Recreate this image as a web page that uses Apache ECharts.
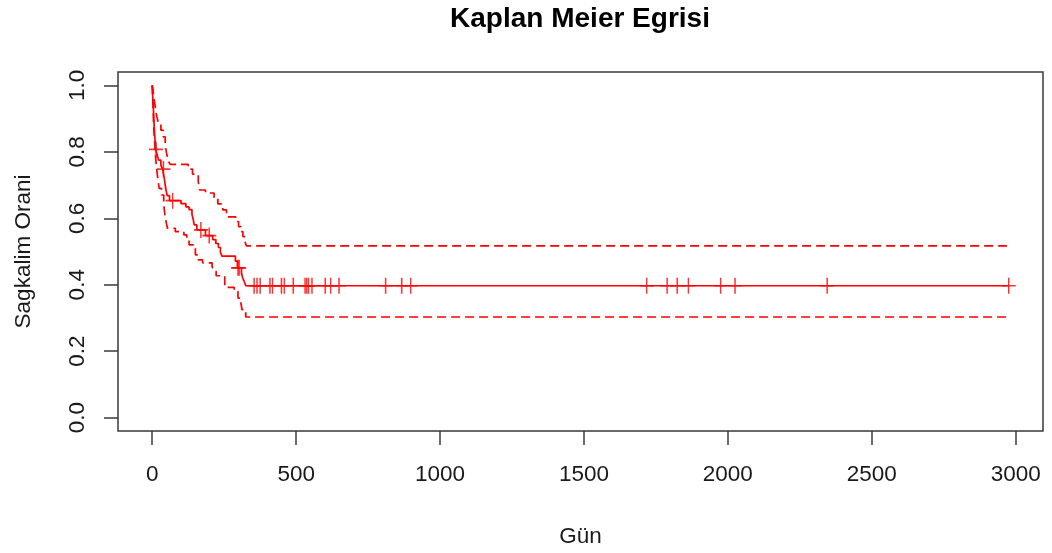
<!DOCTYPE html>
<html>
<head>
<meta charset="utf-8">
<script src="https://cdn.jsdelivr.net/npm/echarts@6/dist/echarts.min.js"></script>
<style>
  html, body { margin: 0; padding: 0; background: #ffffff; }
  #chart { width: 1052px; height: 553px; }
</style>
</head>
<body>
<div id="chart"></div>
<script>
// Kaplan-Meier estimate: step times (days) and survival probability
const survTime = [0, 2, 4, 6, 8, 10, 13, 17, 22, 30, 36, 42, 45, 48, 52, 60, 100, 117, 128, 138, 142, 146, 155, 185, 210, 221, 230, 237, 242, 289, 296, 310, 314, 320, 325, 2976];
const survProb = [1.0, 0.96, 0.93, 0.89, 0.86, 0.83, 0.807, 0.79, 0.775, 0.76, 0.748, 0.72, 0.70, 0.685, 0.668, 0.653, 0.644, 0.634, 0.626, 0.612, 0.598, 0.580, 0.565, 0.548, 0.536, 0.524, 0.512, 0.498, 0.486, 0.471, 0.451, 0.436, 0.421, 0.409, 0.397, 0.397];

// 95% confidence band, upper limit
const upperTime = [0, 4, 8, 12, 16, 22, 30, 38, 45, 50, 56, 62, 125, 140, 160, 165, 185, 215, 228, 245, 258, 290, 300, 308, 315, 322, 327, 2970];
const upperProb = [1.0, 0.975, 0.95, 0.925, 0.905, 0.885, 0.865, 0.845, 0.82, 0.795, 0.772, 0.762, 0.748, 0.733, 0.71, 0.685, 0.676, 0.658, 0.643, 0.625, 0.604, 0.59, 0.575, 0.56, 0.545, 0.53, 0.517, 0.517];

// 95% confidence band, lower limit
const lowerTime = [0, 2, 4, 6, 9, 12, 15, 18, 24, 32, 40, 44, 48, 53, 80, 110, 120, 128, 150, 160, 175, 208, 214, 222, 252, 285, 298, 308, 312, 325, 2967];
const lowerProb = [1.0, 0.95, 0.90, 0.86, 0.82, 0.78, 0.75, 0.73, 0.69, 0.67, 0.64, 0.61, 0.59, 0.57, 0.56, 0.55, 0.535, 0.52, 0.49, 0.475, 0.466, 0.455, 0.44, 0.427, 0.392, 0.38, 0.36, 0.345, 0.325, 0.303, 0.303];

// Censored observations (days)
const censorTime = [13, 39, 71, 169, 198, 298, 302, 354, 364, 375, 409, 418, 449, 459, 490, 531, 537, 543, 555, 601, 620, 649, 811, 867, 898, 1718, 1789, 1824, 1863, 1975, 2025, 2345, 2976];

// Axis tick positions
const xTicks = [0, 500, 1000, 1500, 2000, 2500, 3000];
const yTicks = [0, 0.2, 0.4, 0.6, 0.8, 1.0];

const RED = '#ff0000';
const INK = '#1a1a1a';
const FONT = "'Liberation Sans', Arial, sans-serif";

const pairs = (ts, vs) => ts.map((t, i) => [t, vs[i]]);

// survival value of the step curve at time t
function survAt(t) {
  let s = survProb[0];
  for (let i = 0; i < survTime.length; i++) {
    if (survTime[i] <= t) s = survProb[i]; else break;
  }
  return s;
}

const chart = echarts.init(document.getElementById('chart'), null, { renderer: 'canvas' });

const axisTextStyle = { color: INK, fontFamily: FONT, fontSize: 22.5 };

chart.setOption({
  animation: false,
  backgroundColor: '#ffffff',
  title: {
    text: 'Kaplan Meier Egrisi',
    left: 580,
    top: 0,
    padding: [5, 0, 0, 0],
    textAlign: 'center',
    textStyle: { color: '#000', fontFamily: FONT, fontSize: 28, fontWeight: 'bold' }
  },
  grid: {
    left: 118, right: 9, top: 72, bottom: 116,
    show: true, borderColor: '#3a3a3a', borderWidth: 1.5, backgroundColor: 'transparent'
  },
  xAxis: {
    type: 'value',
    min: -119, max: 3095,
    name: 'Gün',
    nameLocation: 'middle',
    nameGap: 94,
    nameTextStyle: axisTextStyle,
    axisLine: { show: false, onZero: false },
    axisTick: { show: true, inside: false, length: 14, customValues: xTicks, lineStyle: { color: '#3a3a3a', width: 1.5 } },
    axisLabel: { show: true, margin: 32, customValues: xTicks, formatter: v => String(v), ...axisTextStyle },
    splitLine: { show: false }
  },
  yAxis: {
    type: 'value',
    min: -0.04, max: 1.04,
    name: 'Sagkalim Orani',
    nameLocation: 'middle',
    nameGap: 83,
    nameRotate: 90,
    nameTextStyle: axisTextStyle,
    axisLine: { show: false, onZero: false },
    axisTick: { show: true, inside: false, length: 14, customValues: yTicks, lineStyle: { color: '#3a3a3a', width: 1.5 } },
    axisLabel: {
      show: true, margin: 29, rotate: 90, customValues: yTicks,
      formatter: v => v.toFixed(1), ...axisTextStyle
    },
    splitLine: { show: false }
  },
  series: [
    {
      name: 'survival',
      type: 'line',
      step: 'end',
      data: pairs(survTime, survProb),
      showSymbol: false,
      lineStyle: { color: RED, width: 1.7 },
      z: 3
    },
    {
      name: 'upper',
      type: 'line',
      step: 'end',
      data: pairs(upperTime, upperProb),
      showSymbol: false,
      lineStyle: { color: RED, width: 1.7, type: [9, 5] },
      z: 2
    },
    {
      name: 'lower',
      type: 'line',
      step: 'end',
      data: pairs(lowerTime, lowerProb),
      showSymbol: false,
      lineStyle: { color: RED, width: 1.7, type: [9, 5] },
      z: 2
    },
    {
      name: 'censored',
      type: 'scatter',
      data: censorTime.map(t => [t, survAt(t)]),
      symbol: 'path://M0,-1L0,1M-1,0L1,0',
      symbolSize: [14, 16],
      itemStyle: { color: 'none', borderColor: RED, borderWidth: 1.6 },
      z: 4
    }
  ]
});
</script>
</body>
</html>
